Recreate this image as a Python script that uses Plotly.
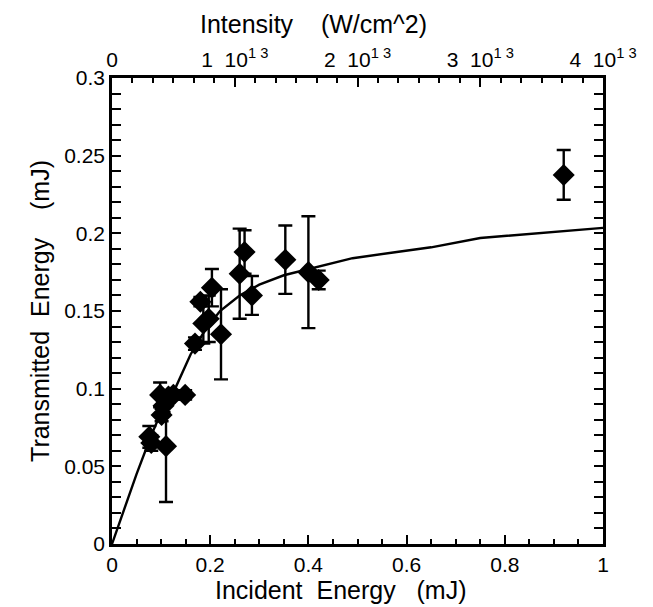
import plotly.graph_objects as go

# measured data points (incident energy mJ, transmitted energy mJ, error)
inc = [0.076, 0.080, 0.110, 0.101, 0.105, 0.098, 0.115, 0.125, 0.149, 0.169, 0.180,
       0.186, 0.197, 0.2035, 0.222, 0.260, 0.270, 0.285, 0.353, 0.400, 0.421, 0.920]
trans = [0.069, 0.065, 0.063, 0.083, 0.089, 0.096, 0.095, 0.096, 0.096, 0.129, 0.156,
         0.142, 0.145, 0.165, 0.135, 0.174, 0.188, 0.160, 0.183, 0.175, 0.170, 0.2376]
err_y = [0.007, 0.005, 0.036, 0.004, 0.004, 0.008, 0.004, 0.003, 0.003, 0.004, 0.003,
         0.013, 0.015, 0.012, 0.029, 0.029, 0.014, 0.0125, 0.022, 0.036, 0.006, 0.016]
err_x = [0, 0, 0, 0, 0, 0, 0, 0, 0.008, 0, 0.007,
         0, 0, 0, 0, 0, 0, 0, 0, 0, 0.007, 0]

# fitted curve
fit_x = [0, 0.02, 0.05, 0.08, 0.11, 0.13, 0.16, 0.19, 0.22, 0.26, 0.30, 0.35, 0.40,
         0.49, 0.58, 0.65, 0.75, 0.89, 1.0]
fit_y = [0, 0.018, 0.045, 0.070, 0.092, 0.101, 0.122, 0.138, 0.150, 0.160, 0.167,
         0.173, 0.177, 0.184, 0.188, 0.191, 0.197, 0.2007, 0.2035]

# axis ticks
x_ticks = [0, 0.2, 0.4, 0.6, 0.8, 1.0]
x_labels = ["0", "0.2", "0.4", "0.6", "0.8", "1"]
y_ticks = [0, 0.05, 0.1, 0.15, 0.2, 0.25, 0.3]
y_labels = ["0", "0.05", "0.1", "0.15", "0.2", "0.25", "0.3"]
int_vals = [0, 1e13, 2e13, 3e13, 4e13]
int_text = ["0", "1  10<sup>1 3</sup>", "2  10<sup>1 3</sup>", "3  10<sup>1 3</sup>", "4  10<sup>1 3</sup>"]

FONT = "Liberation Sans, Arial, sans-serif"

fig = go.Figure()
fig.add_trace(go.Scatter(
    x=fit_x, y=fit_y, mode="lines", line_shape="linear",
    line=dict(color="black", width=2.4), hoverinfo="skip", showlegend=False))
fig.add_trace(go.Scatter(
    x=inc, y=trans, mode="markers",
    marker=dict(symbol="diamond", size=17, color="black"),
    error_y=dict(type="data", array=err_y, visible=True, color="black", thickness=2.4, width=7),
    error_x=dict(type="data", array=err_x, visible=True, color="black", thickness=2.4, width=5),
    showlegend=False))
fig.add_trace(go.Scatter(x=[0, 4e13], y=[0, 0], xaxis="x2", mode="markers",
                         marker=dict(opacity=0), hoverinfo="skip", showlegend=False))

tick_font = dict(family=FONT, size=21, color="black")
title_font = dict(family=FONT, size=25, color="black")

fig.update_layout(
    width=653, height=607,
    margin=dict(l=104, r=58, t=70, b=71),
    paper_bgcolor="white", plot_bgcolor="white",
    font=dict(family=FONT, color="black", size=21),
    xaxis=dict(
        range=[0, 1], tickvals=x_ticks, ticktext=x_labels, tickfont=tick_font,
        ticks="inside", ticklen=9, tickwidth=2, tickcolor="black",
        minor=dict(dtick=0.05, ticks="inside", ticklen=5, tickwidth=2, tickcolor="black"),
        showline=True, linecolor="black", linewidth=2.5, mirror=True,
        showgrid=False, zeroline=False,
    ),
    xaxis2=dict(
        range=[0, 4e13], overlaying="x", side="top",
        tickvals=int_vals, ticktext=int_text, tickfont=tick_font,
        ticks="inside", ticklen=9, tickwidth=2, tickcolor="black",
        minor=dict(dtick=1e13 / 6, ticks="inside", ticklen=5, tickwidth=2, tickcolor="black"),
        showline=True, linecolor="black", linewidth=2.5,
        showgrid=False, zeroline=False,
    ),
    yaxis=dict(
        range=[0, 0.3], tickvals=y_ticks, ticktext=y_labels, tickfont=tick_font,
        ticks="inside", ticklen=9, tickwidth=2, tickcolor="black",
        minor=dict(dtick=0.01, ticks="inside", ticklen=5, tickwidth=2, tickcolor="black"),
        showline=True, linecolor="black", linewidth=2.5, mirror="allticks",
        showgrid=False, zeroline=False,
        title=dict(text="Transmitted  Energy    (mJ)", font=title_font, standoff=8),
    ),
    annotations=[
        dict(text="Intensity    (W/cm^2)", xref="paper", yref="paper", x=0.41, y=1.115,
             xanchor="center", yanchor="middle", showarrow=False, font=title_font),
        dict(text="Incident  Energy   (mJ)", xref="paper", yref="paper", x=0.465, y=-0.099,
             xanchor="center", yanchor="middle", showarrow=False, font=title_font),
    ],
)

fig.write_html("out.html")
